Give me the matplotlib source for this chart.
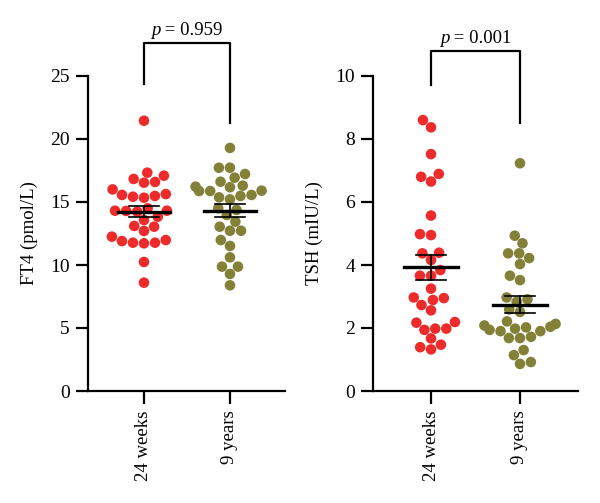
import numpy as np
import pandas as pd
import matplotlib as mpl
mpl.use('Agg')
import matplotlib.pyplot as plt
from matplotlib.offsetbox import TextArea, HPacker, AnnotationBbox
import seaborn as sns

# Groups and colours
groups = ['24 weeks', '9 years']
colors = ['#EE2B2B', '#838038']

# FT4 (pmol/L) values
ft4_24w = [21.45, 17.33, 16.59, 16.53, 17.09, 16.83, 16.0, 15.56, 15.48, 15.34,
           15.42, 15.63, 14.31, 14.31, 14.5, 14.29, 14.23, 13.83, 13.57, 13.04,
           13.1, 12.7, 12.25, 11.9, 11.72, 11.98, 11.77, 11.77, 10.24, 8.6]
ft4_9y = [19.29, 17.72, 17.72, 17.22, 16.93, 16.61, 16.3, 15.87, 15.48, 15.56,
          15.87, 15.9, 16.17, 16.22, 15.21, 15.37, 14.5, 14.37, 13.97, 13.44,
          13.04, 12.72, 12.72, 11.98, 11.51, 10.61, 9.87, 9.87, 9.29, 8.39]

# TSH (mIU/L) values
tsh_24w = [8.6, 8.37, 7.52, 6.8, 6.89, 6.65, 5.57, 4.95, 4.98, 4.37,
           4.39, 4.16, 3.84, 3.66, 3.66, 3.25, 2.89, 2.97, 2.95, 2.73,
           2.56, 1.98, 1.98, 1.94, 2.17, 2.19, 1.67, 1.47, 1.39, 1.32]
tsh_9y = [7.23, 4.93, 4.69, 4.37, 4.37, 4.22, 4.03, 3.66, 3.52, 2.97,
          2.91, 2.83, 2.59, 2.51, 2.21, 2.08, 2.04, 2.02, 2.13, 1.9,
          1.98, 1.9, 1.94, 1.68, 1.72, 1.68, 1.3, 1.14, 0.92, 0.86]

ft4_ticks = [0, 5, 10, 15, 20, 25]
tsh_ticks = [0, 2, 4, 6, 8, 10]
p_values = ['0.959', '0.001']

# Fonts
mpl.rcParams['font.family'] = 'serif'
mpl.rcParams['font.serif'] = ['Liberation Serif', 'DejaVu Serif']

fig = plt.figure(figsize=(6, 5.03), dpi=100)


def panel(rect, a, b, ylabel, ymax, ticks, xlim, ptext, bracket):
    ax = fig.add_axes(rect)
    df = pd.DataFrame({'group': [groups[0]] * len(a) + [groups[1]] * len(b),
                       'value': a + b})
    sns.swarmplot(data=df, x='group', y='value', hue='group', order=groups,
                  hue_order=groups, palette=colors, size=7.6, linewidth=0,
                  legend=False, ax=ax, zorder=2)

    # Mean +/- SEM
    for i, vals in enumerate([a, b]):
        v = np.array(vals)
        m = v.mean()
        sem = v.std(ddof=1) / np.sqrt(len(v))
        ax.plot([i - 0.3, i + 0.3], [m, m], color='black', lw=2.4, zorder=3)
        ax.plot([i, i], [m - sem, m + sem], color='black', lw=1.2, zorder=3)
        for y in (m - sem, m + sem):
            ax.plot([i - 0.17, i + 0.17], [y, y], color='black', lw=1.2,
                    zorder=3)

    ax.set_xlim(*xlim)
    ax.set_ylim(0, ymax)
    ax.set_yticks(ticks)
    ax.set_xticks([0, 1])
    ax.set_xticklabels(groups, rotation=90)
    ax.set_xlabel('')
    ax.set_ylabel(ylabel, fontsize=13.5, labelpad=9)
    for s in ['top', 'right']:
        ax.spines[s].set_visible(False)
    for s in ['left', 'bottom']:
        ax.spines[s].set_linewidth(1.6)
    ax.tick_params(axis='both', direction='out', length=9, width=1.6,
                   labelsize=14, pad=4)
    ax.tick_params(axis='x', labelsize=13.5, pad=5)

    # Significance bracket
    top, lb, rb = bracket
    ax.plot([0, 0, 1, 1], [lb, top, top, rb], color='black', lw=1.6,
            clip_on=False)
    label = HPacker(children=[
        TextArea('p', textprops=dict(fontsize=13.5, style='italic')),
        TextArea(' = ' + ptext, textprops=dict(fontsize=13.5))],
        align='baseline', pad=0, sep=0)
    ab = AnnotationBbox(label, (0.5, top), xybox=(0, 3),
                        boxcoords='offset points', box_alignment=(0.5, 0),
                        frameon=False, annotation_clip=False)
    ax.add_artist(ab)
    return ax


panel([88 / 600, 112 / 503, 197 / 600, 315 / 503], ft4_24w, ft4_9y,
      'FT4 (pmol/L)', 25, ft4_ticks, (-0.651, 1.64), p_values[0],
      (27.6, 24.4, 21.3))
panel([373 / 600, 112 / 503, 205 / 600, 315 / 503], tsh_24w, tsh_9y,
      'TSH (mIU/L)', 10, tsh_ticks, (-0.652, 1.652), p_values[1],
      (10.8, 9.71, 8.52))

fig.savefig('out.png', dpi=100)
